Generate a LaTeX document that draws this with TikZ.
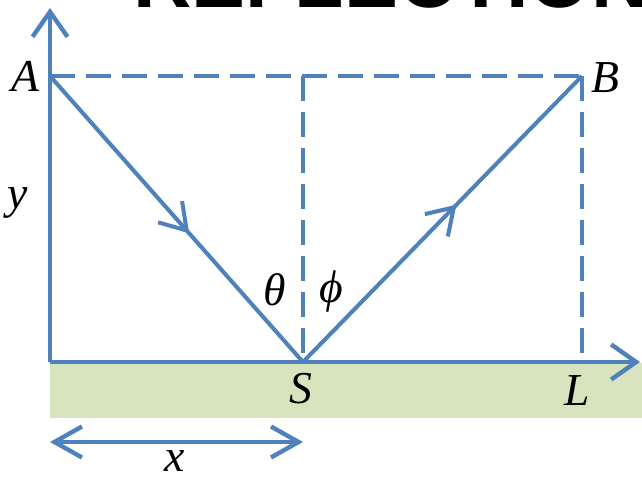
\documentclass[tikz,border=0pt]{standalone}
\usepackage{fontspec}
\setmainfont{Liberation Serif}
\newfontfamily\titlefont{Liberation Sans}
\usetikzlibrary{arrows.meta,positioning,decorations.markings}
\definecolor{raycol}{HTML}{4F81BD}
\definecolor{groundcol}{HTML}{D7E4BD}
\tikzstyle{axis} = [draw=raycol, line width=2.5pt, -{Straight Barb[length=0.5cm,width=0.7cm]}]
\tikzstyle{span} = [draw=raycol, line width=2.5pt, {Straight Barb[length=0.55cm,width=0.62cm]}-{Straight Barb[length=0.55cm,width=0.62cm]}]
\tikzstyle{ray} = [draw=raycol, line width=2.3pt, postaction={decorate},
  decoration={markings, mark=at position 0.55 with {\arrow{Straight Barb[length=0.5cm,width=0.64cm]}}}]
\tikzstyle{guide} = [draw=raycol, line width=2.1pt, dash pattern=on 0.5cm off 0.22cm]
\tikzstyle{lbl} = [font=\fontsize{26}{30}\selectfont\itshape, inner sep=0pt]

\begin{document}
\begin{tikzpicture}[x=0.02cm, y=-0.02cm, node distance=0.3cm]
        \clip (0,0) rectangle (642,479);
        % title, cut off by the page edge
        \node[anchor=base west, inner sep=0pt, font=\titlefont\bfseries\fontsize{46}{50}\selectfont] (title) at (133,8) {REFLECTION};
        % ground
        \fill[groundcol] (50,363) rectangle (642,418);

        \coordinate (O)    at (50,362);
        \coordinate (A)    at (50,76);
        \coordinate (B)    at (582,76);
        \coordinate (N)    at (303,76);
        \coordinate (S)    at (303,362);
        \coordinate (L)    at (582,362);
        \coordinate (ytop) at (50,8);
        \coordinate (xend) at (640,362);
        \coordinate (xa)   at (50,442);
        \coordinate (xb)   at (303,442);

        \node[lbl] (Alab)     at (25,76)   {A};
        \node[lbl] (Blab)     at (605,78)  {B};
        \node[lbl] (ylab)     at (18,203)  {y};
        \node[lbl] (thetalab) at (275,290) {θ};
        \node[lbl] (philab)   at (331,292) {ϕ};
        \node[lbl] (Slab)     at (301,389) {S};
        \node[lbl] (Llab)     at (577,391) {L};
        \node[lbl] (xlab)     at (175,461) {x};

        \path[guide] (A) -- (B);
        \path[guide] (N) -- (S);
        \path[guide] (B) -- (L);
        \path[axis]  (O) -- (ytop);
        \path[axis]  (O) -- (xend);
        \path[ray]   (A) -- (S);
        \path[ray]   (S) -- (B);
        \path[span]  (xa) -- (xb);
\end{tikzpicture}
\end{document}
